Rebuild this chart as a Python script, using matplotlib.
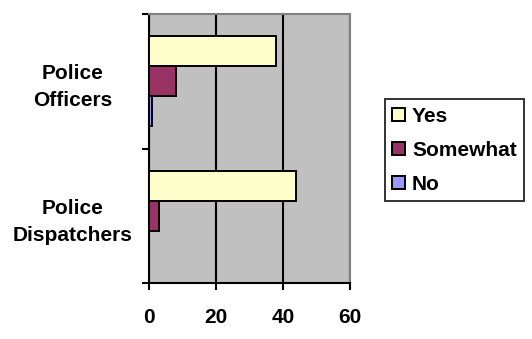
import matplotlib
matplotlib.use("Agg")
import matplotlib.pyplot as plt
import numpy as np

plt.rcParams['font.family'] = ['Liberation Sans', 'DejaVu Sans']
plt.rcParams['font.weight'] = 'bold'

# categories bottom-to-top, as in the spreadsheet
categories = ['Police\nDispatchers', 'Police\nOfficers']
series = ['Yes', 'Somewhat', 'No']
yes_vals = [44, 38]
somewhat_vals = [3, 8]
no_vals = [0, 1]
colors = ['#FFFFCC', '#993366', '#9999FF']

fig = plt.figure(figsize=(5.32, 3.39), dpi=100)
ax = fig.add_axes([149 / 532, 1 - 283 / 339, 201 / 532, 269 / 339])
ax.set_facecolor('#C0C0C0')

h = 0.223
centers = np.arange(len(categories)) + 0.5
offsets = [h, 0, -h]
for vals, off, col, name in zip([yes_vals, somewhat_vals, no_vals], offsets, colors, series):
    ax.barh(centers + off, vals, height=h, color=col, edgecolor='black',
            linewidth=1.4, label=name, zorder=3)

ax.set_xlim(0, 60)
ax.set_ylim(0, 2)
ax.set_xticks([0, 20, 40, 60])
ax.xaxis.grid(True, color='black', linewidth=1.5, zorder=1)
ax.set_axisbelow(True)

ax.set_yticks([0, 1, 2])
ax.set_yticklabels([])
ax.set_yticks(centers, minor=True)
ax.set_yticklabels(categories, minor=True, ha='center', linespacing=1.55)
ax.tick_params(axis='y', which='minor', length=0, pad=55, labelsize=15)
ax.tick_params(axis='y', which='major', length=5, width=1.5, direction='out')
ax.tick_params(axis='x', length=5, width=1.5, direction='out', pad=13, labelsize=15)

for side in ['left', 'bottom']:
    ax.spines[side].set_color('black')
    ax.spines[side].set_linewidth(1.5)
for side in ['top', 'right']:
    ax.spines[side].set_color('#808080')
    ax.spines[side].set_linewidth(1.5)

leg = fig.legend(loc='center left', bbox_to_anchor=(385 / 532, 1 - 150 / 339),
                 fontsize=15, handlelength=0.6, handleheight=0.6,
                 handletextpad=0.35, labelspacing=0.72, borderpad=0.35,
                 fancybox=False, frameon=True, borderaxespad=0)
leg.get_frame().set_edgecolor('black')
leg.get_frame().set_linewidth(1.4)
for t in leg.get_texts():
    t.set_fontweight('bold')

fig.savefig('out.png', dpi=100)
